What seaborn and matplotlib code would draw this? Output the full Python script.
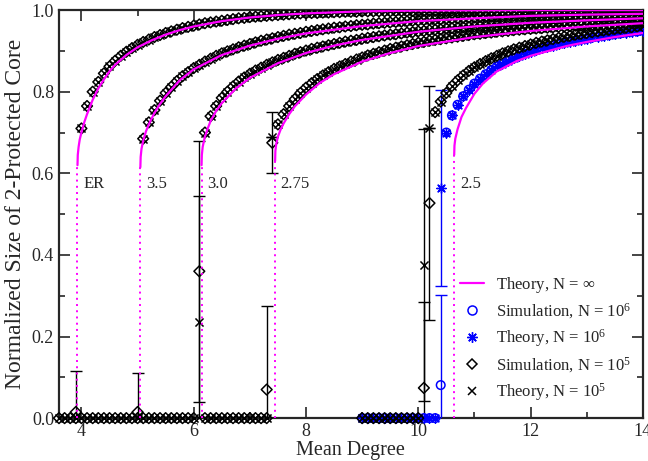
import numpy as np
import matplotlib
matplotlib.use("Agg")
import matplotlib.pyplot as plt
import seaborn as sns

# ---------------- data ----------------
# infinite-N theory curves: (mean degree, core size) anchor points
er_th_x = [3.93, 3.935, 3.95, 3.97, 4.0, 4.05, 4.1, 4.2, 4.3, 4.4, 4.5, 4.6, 4.8, 5.0, 5.25, 5.5, 5.75, 6.0, 6.5, 7.0, 7.5, 8.0, 9.0, 10.0, 12.0, 14.0]
er_th_y = [0.62, 0.645, 0.665, 0.683, 0.70, 0.725, 0.745, 0.78, 0.808, 0.83, 0.85, 0.866, 0.89, 0.909, 0.926, 0.94, 0.951, 0.96, 0.973, 0.982, 0.988, 0.992, 0.997, 0.999, 1.0, 1.0]
g35_th_x = [5.05, 5.055, 5.07, 5.1, 5.15, 5.2, 5.3, 5.4, 5.5, 5.75, 6.0, 6.5, 7.0, 7.5, 8.0, 9.0, 10.0, 11.0, 12.0, 13.0, 14.0]
g35_th_y = [0.615, 0.64, 0.66, 0.68, 0.703, 0.72, 0.748, 0.77, 0.789, 0.828, 0.855, 0.89, 0.913, 0.93, 0.943, 0.961, 0.973, 0.98, 0.986, 0.989, 0.991]
g30_th_x = [6.14, 6.145, 6.16, 6.2, 6.25, 6.3, 6.4, 6.5, 6.75, 7.0, 7.5, 8.0, 8.5, 9.0, 10.0, 11.0, 12.0, 13.0, 14.0]
g30_th_y = [0.62, 0.645, 0.665, 0.69, 0.71, 0.728, 0.753, 0.772, 0.808, 0.834, 0.87, 0.895, 0.913, 0.927, 0.947, 0.96, 0.969, 0.975, 0.98]
g275_th_x = [7.45, 7.455, 7.47, 7.5, 7.55, 7.6, 7.7, 7.8, 8.0, 8.25, 8.5, 9.0, 9.5, 10.0, 11.0, 12.0, 13.0, 14.0]
g275_th_y = [0.63, 0.655, 0.672, 0.69, 0.708, 0.722, 0.745, 0.764, 0.793, 0.822, 0.843, 0.874, 0.895, 0.912, 0.934, 0.949, 0.96, 0.968]
g25_th_x = [10.64, 10.645, 10.66, 10.7, 10.77, 10.85, 11.0, 11.15, 11.4, 11.75, 12.0, 12.64, 13.0, 13.5, 14.0]
g25_th_y = [0.645, 0.668, 0.685, 0.708, 0.738, 0.76, 0.795, 0.82, 0.85, 0.875, 0.888, 0.912, 0.922, 0.934, 0.944]

thresholds = [3.93, 5.05, 6.14, 7.45, 10.64]
jump_sizes = [0.62, 0.615, 0.62, 0.63, 0.645]
curve_labels = ["ER", "3.5", "3.0", "2.75", "2.5"]

# finite-N points above threshold (sampled every 0.1 in mean degree)
er_n5_start = 4.0
er_n5 = [0.71, 0.765, 0.80, 0.824, 0.845, 0.862, 0.876, 0.888, 0.898, 0.907,
         0.915, 0.922, 0.928, 0.934, 0.939, 0.944, 0.948, 0.952, 0.956, 0.959,
         0.962, 0.965, 0.968, 0.970, 0.972, 0.974, 0.976, 0.978, 0.980, 0.981,
         0.983, 0.984, 0.985, 0.986, 0.987, 0.988, 0.989, 0.990, 0.991, 0.992,
         0.992, 0.993, 0.993, 0.994, 0.994, 0.995, 0.995, 0.996, 0.996, 0.996,
         0.997, 0.997, 0.997, 0.997, 0.997, 0.997, 0.998, 0.998, 0.998, 0.998,
         0.998, 0.998, 0.998, 0.998, 0.998, 0.998, 0.999, 0.999, 0.999, 0.999,
         0.999, 0.999, 0.999, 0.999, 0.999, 0.999, 0.999, 0.999, 0.999, 0.999,
         0.999, 1.0, 1.0, 1.0, 1.0, 1.0, 1.0, 1.0, 1.0, 1.0,
         1.0, 1.0, 1.0, 1.0, 1.0, 1.0, 1.0, 1.0, 1.0, 1.0, 1.0]
g35_n5_start = 5.1
g35_n5 = [0.685, 0.725, 0.755, 0.778, 0.797, 0.812, 0.826, 0.838, 0.848, 0.858,
          0.866, 0.874, 0.881, 0.888, 0.894, 0.899, 0.904, 0.909, 0.913, 0.917,
          0.921, 0.925, 0.928, 0.931, 0.934, 0.937, 0.940, 0.942, 0.944, 0.947,
          0.949, 0.951, 0.953, 0.955, 0.957, 0.958, 0.960, 0.961, 0.963, 0.964,
          0.965, 0.967, 0.968, 0.969, 0.970, 0.971, 0.972, 0.973, 0.974, 0.975,
          0.976, 0.977, 0.977, 0.978, 0.979, 0.980, 0.980, 0.981, 0.982, 0.982,
          0.983, 0.983, 0.984, 0.984, 0.985, 0.985, 0.986, 0.986, 0.987, 0.987,
          0.988, 0.988, 0.988, 0.989, 0.989, 0.989, 0.990, 0.990, 0.990, 0.991,
          0.991, 0.991, 0.992, 0.992, 0.992, 0.992, 0.993, 0.993, 0.993, 0.993]
g30_n5_start = 6.2
g30_n5 = [0.70, 0.74, 0.765, 0.785, 0.80, 0.813, 0.825, 0.835, 0.844, 0.852,
          0.859, 0.866, 0.872, 0.878, 0.883, 0.888, 0.893, 0.897, 0.901, 0.905,
          0.908, 0.911, 0.914, 0.917, 0.920, 0.923, 0.925, 0.927, 0.930, 0.932,
          0.934, 0.936, 0.938, 0.940, 0.941, 0.943, 0.945, 0.946, 0.948, 0.949,
          0.951, 0.952, 0.953, 0.955, 0.956, 0.957, 0.958, 0.959, 0.960, 0.961,
          0.962, 0.963, 0.964, 0.965, 0.966, 0.967, 0.967, 0.968, 0.969, 0.970,
          0.970, 0.971, 0.972, 0.972, 0.973, 0.974, 0.974, 0.975, 0.975, 0.976,
          0.976, 0.977, 0.977, 0.978, 0.978, 0.979, 0.979, 0.980, 0.980]
g275_n5_start = 7.5
g275_n5 = [0.72, 0.745, 0.765, 0.782, 0.797, 0.81, 0.821, 0.831, 0.840, 0.848,
           0.856, 0.862, 0.868, 0.874, 0.879, 0.884, 0.889, 0.893, 0.897, 0.901,
           0.905, 0.908, 0.911, 0.914, 0.917, 0.920, 0.922, 0.925, 0.927, 0.929,
           0.931, 0.933, 0.935, 0.937, 0.939, 0.941, 0.942, 0.944, 0.945, 0.947,
           0.948, 0.949, 0.951, 0.952, 0.953, 0.954, 0.955, 0.956, 0.957, 0.958,
           0.959, 0.960, 0.961, 0.962, 0.962, 0.963, 0.964, 0.965, 0.965, 0.966,
           0.967, 0.967, 0.968, 0.969, 0.969, 0.970]
g25_n5_start = 10.3
g25_n5 = [0.75, 0.776, 0.797, 0.814, 0.828, 0.840, 0.851, 0.860, 0.868,
          0.875, 0.882, 0.888, 0.894, 0.899, 0.904, 0.908, 0.912, 0.916, 0.920,
          0.923, 0.926, 0.929, 0.932, 0.935, 0.937, 0.940, 0.942, 0.944, 0.946,
          0.948, 0.950, 0.952, 0.954, 0.955, 0.957, 0.958, 0.960, 0.961]
g25_n6_start = 10.5
g25_n6 = [0.70, 0.742, 0.768, 0.789, 0.805, 0.82, 0.832, 0.843, 0.853, 0.862,
          0.869, 0.876, 0.882, 0.888, 0.893, 0.898, 0.902, 0.906, 0.910, 0.913,
          0.917, 0.920, 0.923, 0.925, 0.928, 0.930, 0.933, 0.935, 0.937, 0.939,
          0.941, 0.943, 0.945, 0.947, 0.948, 0.950]

# below-threshold ranges where the finite-N core vanishes
n5_zero_ranges = [(3.6, 3.9), (4.0, 5.0), (5.1, 6.0), (6.2, 7.3), (9.0, 10.0)]
n6_zero_range = (9.0, 10.3)

# points at the transition, with their error bars
sim5_jump_x = [3.9, 5.0, 6.1, 7.3, 7.4, 10.1, 10.2]
sim5_jump_y = [0.015, 0.015, 0.36, 0.07, 0.675, 0.074, 0.527]
sim5_jump_err = [0.10, 0.095, 0.32, 0.205, 0.075, 0.21, 0.287]
th5_jump_x = [6.1, 7.4, 10.1, 10.2]
th5_jump_y = [0.235, 0.69, 0.375, 0.71]
th5_jump_err = [0.31, 0.0, 0.333, 0.0]
sim6_jump_x = [10.4]
sim6_jump_y = [0.081]
sim6_jump_err = [0.22]
th6_jump_x = [10.4]
th6_jump_y = [0.564]
th6_jump_err = [0.24]

# ---------------- style ----------------
sns.set_style("ticks")
plt.rcParams["font.family"] = ["Liberation Serif", "DejaVu Serif"]
plt.rcParams["mathtext.fontset"] = "custom"
plt.rcParams["mathtext.rm"] = "Liberation Serif"
plt.rcParams["mathtext.it"] = "Liberation Serif:italic"

MAG = "#ff00ff"
BLUE = "#0000ff"

fig = plt.figure(figsize=(6.48, 4.61), dpi=100)
ax = fig.add_axes([0.091, 0.093, 0.901, 0.885])


def grid(start, n):
    return np.round(start + 0.1 * np.arange(n), 2)


def zeros_between(a, b):
    xs = np.round(np.arange(a, b + 0.05, 0.1), 2)
    return xs, np.zeros_like(xs)


diam = dict(marker="D", s=30, facecolors="none", edgecolors="black", linewidths=1.1)
cross = dict(marker="x", s=34, color="black", linewidths=1.1)
circ = dict(marker="o", s=38, facecolors="none", edgecolors=BLUE, linewidths=1.1)
star = dict(marker=(8, 2, 0), s=46, color=BLUE, linewidths=1.0)

# zero plateaus (N = 10^6 underneath, N = 10^5 on top)
xs, ys = zeros_between(*n6_zero_range)
ax.scatter(xs, ys, zorder=4, clip_on=False, **circ)
ax.scatter(xs, ys, zorder=4, clip_on=False, **star)
for a, b in n5_zero_ranges:
    xs, ys = zeros_between(a, b)
    ax.scatter(xs, ys, zorder=4, clip_on=False, **diam)
    ax.scatter(xs, ys, zorder=4, clip_on=False, **cross)

# finite-N branches
xs = grid(g25_n6_start, len(g25_n6))
ax.scatter(xs, g25_n6, zorder=4, **circ)
ax.scatter(xs, g25_n6, zorder=4, **star)
for start, vals in [(er_n5_start, er_n5), (g35_n5_start, g35_n5), (g30_n5_start, g30_n5),
                    (g275_n5_start, g275_n5), (g25_n5_start, g25_n5)]:
    xs = grid(start, len(vals))
    ax.scatter(xs, vals, zorder=4, **diam)
    ax.scatter(xs, vals, zorder=4, **cross)

# transition points with error bars
ebar = dict(fmt="none", elinewidth=1.0, capsize=4, capthick=1.0, zorder=3)
ax.errorbar(sim5_jump_x, sim5_jump_y, yerr=sim5_jump_err, ecolor="black", **ebar)
ax.errorbar(th5_jump_x, th5_jump_y, yerr=th5_jump_err, ecolor="black", **ebar)
ax.errorbar(sim6_jump_x, sim6_jump_y, yerr=sim6_jump_err, ecolor=BLUE, **ebar)
ax.errorbar(th6_jump_x, th6_jump_y, yerr=th6_jump_err, ecolor=BLUE, **ebar)
ax.scatter(sim5_jump_x, sim5_jump_y, zorder=5, **diam)
ax.scatter(th5_jump_x, th5_jump_y, zorder=5, **cross)
ax.scatter(sim6_jump_x, sim6_jump_y, zorder=5, **circ)
ax.scatter(th6_jump_x, th6_jump_y, zorder=5, **star)

# infinite-N theory lines
for tx, ty in [(er_th_x, er_th_y), (g35_th_x, g35_th_y), (g30_th_x, g30_th_y),
               (g275_th_x, g275_th_y), (g25_th_x, g25_th_y)]:
    sns.lineplot(x=tx, y=ty, ax=ax, color=MAG, lw=1.6, sort=False, estimator=None, zorder=6)

for c0, s0, lab in zip(thresholds, jump_sizes, curve_labels):
    ax.plot([c0, c0], [0, s0], color=MAG, lw=1.4, ls=(0, (1, 2.2)), zorder=6)
    ax.text(c0 + 0.1, 0.575, lab, fontsize=12, va="center", ha="left")

# legend
handles = [
    plt.Line2D([], [], color=MAG, lw=1.6),
    plt.Line2D([], [], ls="none", marker="o", ms=6.5, mfc="none", mec=BLUE, mew=1.1),
    plt.Line2D([], [], ls="none", marker=(8, 2, 0), ms=7.5, color=BLUE, mew=1.0),
    plt.Line2D([], [], ls="none", marker="D", ms=5.2, mfc="none", mec="black", mew=1.1),
    plt.Line2D([], [], ls="none", marker="x", ms=5.8, color="black", mew=1.1),
]
labels = [r"Theory, N = $\infty$", r"Simulation, N = 10$^{6}$", r"Theory, N = 10$^{6}$",
          r"Simulation, N = 10$^{5}$", r"Theory, N = 10$^{5}$"]
ax.legend(handles, labels, loc="lower left", bbox_to_anchor=(0.664, 0.005), frameon=False,
          fontsize=12, handlelength=1.45, labelspacing=0.37, handletextpad=0.7,
          borderpad=0.3)

# axes
ax.set_xlim(3.6, 14)
ax.set_ylim(0, 1.0)
ax.set_xticks([4, 6, 8, 10, 12, 14])
ax.set_xticks([5, 7, 9, 11, 13], minor=True)
ax.set_yticks([0.0, 0.2, 0.4, 0.6, 0.8, 1.0])
ax.set_yticks([0.1, 0.3, 0.5, 0.7, 0.9], minor=True)
ax.set_yticklabels(["0.0", "0.2", "0.4", "0.6", "0.8", "1.0"])
ax.tick_params(which="both", direction="in", top=True, right=True, labelsize=13, width=1.2)
ax.tick_params(which="major", length=8)
ax.tick_params(which="minor", length=4)
for sp in ax.spines.values():
    sp.set_linewidth(1.6)
ax.set_xlabel("Mean Degree", fontsize=14.5, labelpad=1)
ax.set_ylabel("Normalized Size of 2-Protected Core", fontsize=17, labelpad=4)

fig.savefig("out.png", dpi=100)
